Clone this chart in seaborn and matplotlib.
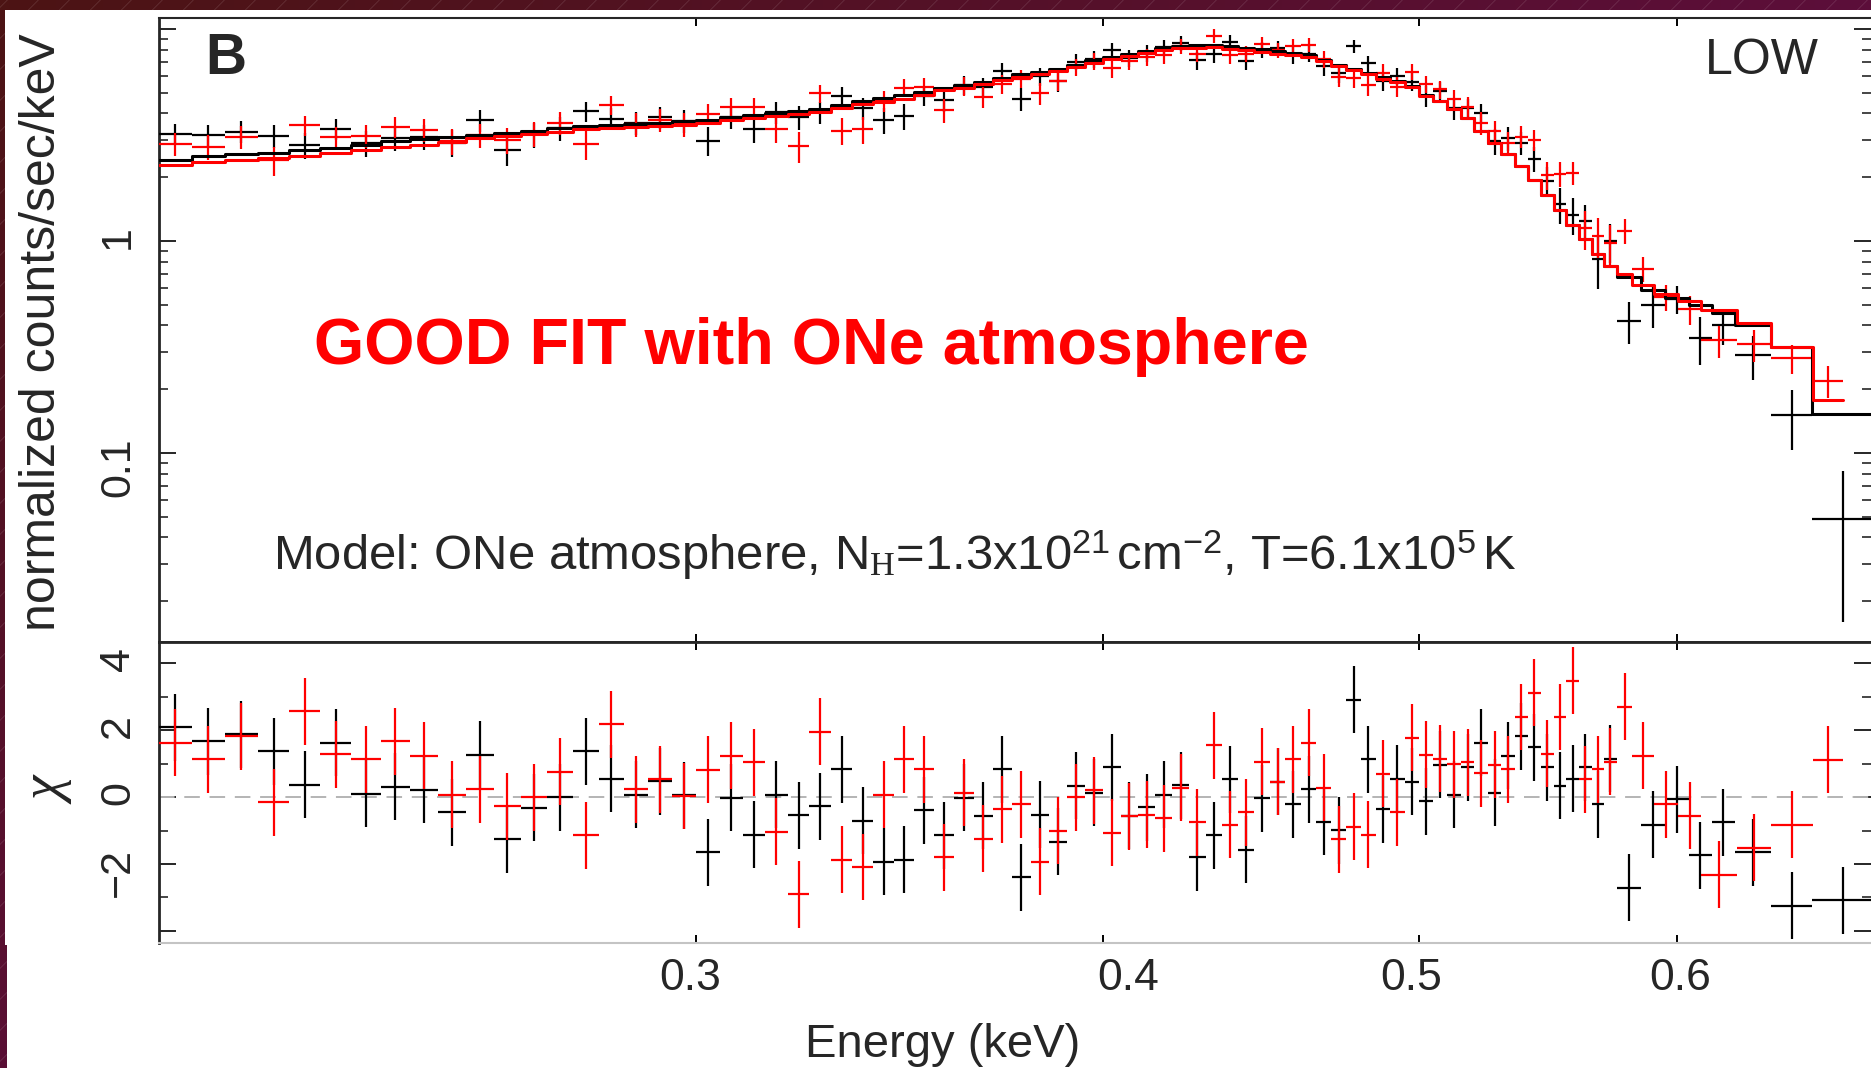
import numpy as np
import pandas as pd
import matplotlib
matplotlib.use('Agg')
import matplotlib.pyplot as plt
import seaborn as sns
from matplotlib.patches import Rectangle
from matplotlib.transforms import ScaledTranslation
from matplotlib.ticker import LogLocator, NullLocator, NullFormatter

W, H, DPI = 1871, 1068, 100

# ---------------------------------------------------------------- data
# 5 eV bins shared by both spectra (keV)
shared_edges = [0.205, 0.210, 0.215, 0.220, 0.225, 0.230, 0.235, 0.240, 0.245, 0.250,
                0.255, 0.260, 0.265, 0.270, 0.275, 0.280, 0.285, 0.290, 0.295, 0.300,
                0.305, 0.310, 0.315, 0.320, 0.325, 0.330, 0.335, 0.340, 0.345, 0.350,
                0.355, 0.360, 0.365, 0.370, 0.375, 0.380, 0.385, 0.390, 0.395, 0.400,
                0.405, 0.410, 0.415, 0.420, 0.425, 0.430, 0.435, 0.440, 0.445, 0.450,
                0.455, 0.460, 0.465, 0.470, 0.475, 0.480, 0.485, 0.490, 0.495, 0.500,
                0.505, 0.510, 0.515, 0.520, 0.525, 0.530, 0.535, 0.540, 0.545, 0.550,
                0.555, 0.560, 0.565, 0.570, 0.575]
blk_edges = shared_edges + [0.585, 0.595, 0.605, 0.615, 0.625, 0.6415, 0.660, 0.690]
red_edges = shared_edges + [0.5815, 0.5905, 0.6005, 0.6105, 0.626, 0.6415, 0.6605, 0.675]

blk_model = [2.42, 2.51, 2.56, 2.61, 2.68, 2.74, 2.85, 2.95, 3.02, 3.09,
             3.17, 3.23, 3.32, 3.40, 3.48, 3.54, 3.58, 3.62, 3.67, 3.74,
             3.84, 3.93, 4.01, 4.10, 4.19, 4.39, 4.58, 4.72, 4.87, 5.07,
             5.26, 5.43, 5.62, 5.88, 6.12, 6.30, 6.48, 6.80, 7.12, 7.40,
             7.65, 7.90, 8.17, 8.33, 8.38, 8.41, 8.30, 8.17, 8.02, 7.85,
             7.68, 7.50, 7.15, 6.80, 6.50, 6.20, 5.92, 5.70, 5.40, 4.90,
             4.60, 4.20, 3.80, 3.30, 2.90, 2.58, 2.25, 1.95, 1.65, 1.40,
             1.19, 1.02, 0.87, 0.76,
             0.68, 0.59, 0.54, 0.50, 0.46, 0.40, 0.315, 0.153]
blk_rate = [3.20, 3.15, 3.28, 3.14, 2.83, 3.38, 2.89, 3.07, 3.11, 2.90,
            3.71, 2.69, 3.18, 3.40, 4.09, 3.78, 3.61, 3.83, 3.69, 2.97,
            3.83, 3.39, 4.04, 3.84, 4.05, 4.81, 4.22, 3.71, 3.88, 4.85,
            4.63, 5.42, 5.30, 6.36, 4.69, 5.98, 5.66, 7.01, 7.20, 7.98,
            7.28, 7.70, 8.22, 8.57, 7.13, 7.62, 8.67, 7.09, 8.00, 8.15,
            7.53, 7.65, 6.67, 6.18, 8.28, 6.88, 5.70, 6.01, 5.65, 4.84,
            5.09, 4.23, 4.22, 4.01, 2.95, 3.05, 2.91, 2.45, 1.92, 1.49,
            1.33, 1.24, 0.82, 1.00,
            0.42, 0.50, 0.535, 0.35, 0.40, 0.29, 0.151, 0.049]
blk_err = [0.373, 0.380, 0.384, 0.388, 0.393, 0.397, 0.405, 0.412, 0.417, 0.422,
           0.427, 0.431, 0.437, 0.443, 0.448, 0.451, 0.454, 0.457, 0.460, 0.464,
           0.470, 0.476, 0.481, 0.486, 0.491, 0.503, 0.514, 0.522, 0.530, 0.540,
           0.550, 0.559, 0.569, 0.582, 0.594, 0.602, 0.611, 0.626, 0.640, 0.653,
           0.664, 0.675, 0.686, 0.693, 0.695, 0.696, 0.691, 0.686, 0.680, 0.672,
           0.665, 0.657, 0.642, 0.626, 0.612, 0.598, 0.584, 0.573, 0.558, 0.531,
           0.515, 0.492, 0.468, 0.436, 0.409, 0.385, 0.360, 0.335, 0.308, 0.284,
           0.262, 0.242, 0.224, 0.209,
           0.095, 0.110, 0.080, 0.090, 0.077, 0.068, 0.048, 0.033]
blk_chi = [2.09, 1.67, 1.87, 1.36, 0.37, 1.62, 0.10, 0.30, 0.22, -0.45,
           1.26, -1.26, -0.32, 0.00, 1.36, 0.54, 0.07, 0.47, 0.05, -1.65,
           -0.02, -1.13, 0.07, -0.54, -0.28, 0.83, -0.71, -1.94, -1.87, -0.40,
           -1.14, -0.02, -0.56, 0.83, -2.40, -0.53, -1.34, 0.33, 0.13, 0.89,
           -0.56, -0.30, 0.07, 0.35, -1.80, -1.14, 0.53, -1.57, -0.03, 0.45,
           -0.22, 0.23, -0.74, -0.99, 2.91, 1.13, -0.37, 0.54, 0.45, -0.12,
           0.96, 0.07, 0.89, 1.62, 0.13, 1.23, 1.82, 1.49, 0.89, 0.33,
           0.54, 0.89, -0.22, 1.14,
           -2.71, -0.83, -0.07, -1.74, -0.76, -1.65, -3.25, -3.08]

red_model = [2.29, 2.37, 2.42, 2.47, 2.53, 2.59, 2.69, 2.79, 2.85, 2.92,
             3.06, 3.12, 3.20, 3.28, 3.36, 3.42, 3.45, 3.49, 3.54, 3.61,
             3.71, 3.79, 3.87, 3.96, 4.04, 4.24, 4.42, 4.55, 4.70, 4.89,
             5.13, 5.29, 5.48, 5.73, 5.97, 6.14, 6.32, 6.63, 6.94, 7.22,
             7.46, 7.70, 7.97, 8.12, 8.17, 8.20, 8.09, 7.97, 7.82, 7.65,
             7.56, 7.39, 7.04, 6.70, 6.40, 6.11, 5.83, 5.61, 5.32, 4.83,
             4.60, 4.20, 3.80, 3.30, 2.90, 2.58, 2.25, 1.95, 1.65, 1.40,
             1.19, 1.02, 0.87, 0.76,
             0.70, 0.62, 0.56, 0.52, 0.475, 0.41, 0.315, 0.178]
red_rate = [2.88, 2.79, 3.10, 2.41, 3.51, 3.08, 3.14, 3.46, 3.35, 2.95,
            3.16, 3.00, 3.20, 3.61, 2.86, 4.38, 3.55, 3.73, 3.55, 3.98,
            4.28, 4.28, 3.38, 2.80, 4.98, 3.32, 3.36, 4.59, 5.29, 5.33,
            4.15, 5.36, 4.78, 5.52, 5.84, 4.99, 5.71, 6.63, 7.07, 6.54,
            7.08, 7.35, 7.54, 8.31, 7.65, 9.26, 7.52, 7.66, 8.53, 7.95,
            8.31, 8.45, 7.22, 5.92, 5.86, 5.44, 6.23, 5.35, 6.30, 5.50,
            5.19, 4.68, 4.29, 3.61, 3.29, 2.90, 3.11, 2.99, 2.05, 2.08,
            2.10, 1.15, 1.06, 0.98,
            1.12, 0.74, 0.545, 0.478, 0.34, 0.325, 0.28, 0.219]
red_err = [0.363, 0.370, 0.373, 0.377, 0.382, 0.386, 0.394, 0.401, 0.405, 0.410,
           0.420, 0.424, 0.429, 0.435, 0.440, 0.444, 0.446, 0.448, 0.452, 0.456,
           0.462, 0.467, 0.472, 0.478, 0.482, 0.494, 0.505, 0.512, 0.520, 0.531,
           0.544, 0.552, 0.562, 0.575, 0.586, 0.595, 0.603, 0.618, 0.632, 0.645,
           0.655, 0.666, 0.678, 0.684, 0.686, 0.687, 0.683, 0.678, 0.671, 0.664,
           0.660, 0.652, 0.637, 0.621, 0.607, 0.593, 0.580, 0.569, 0.554, 0.528,
           0.515, 0.492, 0.468, 0.436, 0.409, 0.385, 0.360, 0.335, 0.308, 0.284,
           0.262, 0.242, 0.224, 0.209,
           0.155, 0.100, 0.077, 0.075, 0.058, 0.056, 0.043, 0.037]
red_chi = [1.62, 1.13, 1.82, -0.15, 2.56, 1.28, 1.13, 1.67, 1.23, 0.07,
           0.23, -0.28, 0.00, 0.76, -1.14, 2.17, 0.23, 0.53, 0.03, 0.81,
           1.23, 1.04, -1.03, -2.90, 1.95, -1.87, -2.09, 0.07, 1.13, 0.83,
           -1.80, 0.13, -1.24, -0.37, -0.22, -1.94, -1.01, 0.00, 0.20, -1.06,
           -0.58, -0.53, -0.64, 0.28, -0.76, 1.54, -0.83, -0.45, 1.06, 0.45,
           1.13, 1.62, 0.28, -1.26, -0.89, -1.13, 0.69, -0.45, 1.77, 1.26,
           1.14, 0.98, 1.04, 0.71, 0.96, 0.83, 2.39, 3.11, 1.29, 2.39,
           3.48, 0.53, 0.83, 1.06,
           2.70, 1.24, -0.22, -0.56, -2.32, -1.52, -0.83, 1.11]

energy_ticks = [0.3, 0.4, 0.5, 0.6]

# ---------------------------------------------------------------- style
sns.set_theme(style='ticks')
plt.rcParams['font.family'] = ['Liberation Sans', 'DejaVu Sans']
plt.rcParams['mathtext.fontset'] = 'custom'
plt.rcParams['mathtext.rm'] = 'Liberation Serif'
plt.rcParams['mathtext.it'] = 'Liberation Serif:italic'
plt.rcParams['mathtext.bf'] = 'Liberation Serif:bold'
plt.rcParams['mathtext.sf'] = 'Liberation Sans'

fig = plt.figure(figsize=(W / DPI, H / DPI), dpi=DPI, facecolor='white')


def fx(px):
    return px / W


def fy(py):
    return 1 - py / H


# slide background: maroon band with faint diagonal lines, white picture on top
bg = fig.add_axes([0, 0, 1, 1], zorder=-10)
bg.set_axis_off()
gx, gy = np.meshgrid(np.linspace(0, 1, 200), np.linspace(0, 1, 120))
t = np.clip(gx + 0.85 * gy, 0, 1)[..., None]
c0 = np.array([76, 20, 20]) / 255
c1 = np.array([92, 14, 58]) / 255
bg.imshow(c0 + (c1 - c0) * t, extent=(0, 1, 0, 1), aspect='auto', origin='upper')
for c in np.arange(-0.6, 1.0, 31 / W):
    bg.plot([c, c + H / W], [0, 1], color='white', alpha=0.13, lw=0.6)
bg.add_patch(Rectangle((fx(5), fy(945)), 1, fy(10) - fy(945), facecolor='white',
                       edgecolor='none', zorder=5))
bg.add_patch(Rectangle((fx(7), 0), 1, fy(945), facecolor='white',
                       edgecolor='none', zorder=5))
bg.set_xlim(0, 1)
bg.set_ylim(0, 1)

ax_top = fig.add_axes([fx(159), fy(642), 1 - fx(159), (642 - 18) / H])
ax_bot = fig.add_axes([fx(159), fy(943), 1 - fx(159), (943 - 642) / H])

for ax in (ax_top, ax_bot):
    ax.set_facecolor('white')
    ax.set_xscale('log')
    ax.set_xlim(0.2052, 0.6883)
ax_top.set_yscale('log')
ax_top.set_ylim(0.01284, 11.27)
ax_bot.set_ylim(-4.36, 4.63)

ax_bot.axhline(0, color='#b4b4b4', lw=1.4, ls=(0, (8, 5)), zorder=1)


def draw_spectrum(edges, rate, err, model, chi, color):
    lo = np.array(edges[:-1])
    hi = np.array(edges[1:])
    mid = 0.5 * (lo + hi)
    xerr = [mid - lo, hi - mid]
    ax_top.errorbar(mid, rate, xerr=xerr, yerr=err, fmt='none', ecolor=color,
                    elinewidth=1.6, capsize=0, zorder=3)
    step = pd.DataFrame({'energy': edges, 'model': list(model) + [model[-1]]})
    sns.lineplot(data=step, x='energy', y='model', ax=ax_top, color=color, lw=2.2,
                 drawstyle='steps-post', estimator=None, sort=False, zorder=4)
    ax_bot.errorbar(mid, chi, xerr=xerr, yerr=1.0, fmt='none', ecolor=color,
                    elinewidth=1.6, capsize=0, zorder=3)


draw_spectrum(blk_edges, blk_rate, blk_err, blk_model, blk_chi, 'black')
draw_spectrum(red_edges, red_rate, red_err, red_model, red_chi, '#ff0000')

for ax in (ax_top, ax_bot):
    ax.set_xlabel('')
    ax.set_ylabel('')
    ax.xaxis.set_minor_locator(NullLocator())
    ax.xaxis.set_minor_formatter(NullFormatter())
    ax.spines['right'].set_visible(False)
    ax.spines['left'].set_linewidth(2.0)
    ax.tick_params(axis='x', which='major', direction='in', top=True, bottom=True,
                   length=6, width=1.4, color='black')
    ax.tick_params(axis='y', which='major', direction='in', left=True, right=True,
                   length=12, width=1.4, labelsize=31, labelrotation=90, pad=15)
    ax.tick_params(axis='y', which='minor', direction='in', left=True, right=True,
                   length=6.5, width=1.2)

ax_top.spines['top'].set_linewidth(1.5)
ax_top.spines['bottom'].set_linewidth(2.0)
ax_bot.spines['top'].set_linewidth(2.0)
ax_bot.spines['bottom'].set_color('#c4c4c4')
ax_bot.spines['bottom'].set_linewidth(1.5)

ax_top.set_xticks(energy_ticks, [])
ax_top.set_yticks([0.1, 1, 10], ['0.1', '1', ''])
ax_top.yaxis.set_minor_locator(LogLocator(base=10, subs=np.arange(2, 10)))
ax_top.yaxis.set_minor_formatter(NullFormatter())

ax_bot.set_xticks(energy_ticks, ['0.3', '0.4', '0.5', '0.6'])
ax_bot.tick_params(axis='x', labelsize=32, pad=11)
ax_bot.set_yticks([-4, -2, 0, 2, 4], ['', '\u22122', '0', '2', '4'])
ax_bot.set_yticks([-3, -1, 1, 3], minor=True)

# the energy labels sit a little off their ticks in the original
for lab, dx in zip(ax_bot.get_xticklabels(), [-6, 25, -8, 3]):
    lab.set_transform(lab.get_transform() + ScaledTranslation(dx / DPI, 0, fig.dpi_scale_trans))

# ---------------------------------------------------------------- texts
fig.text(fx(205), fy(74), 'B', fontsize=41, fontweight='bold', va='baseline', ha='left')
fig.text(fx(1819), fy(74), 'LOW', fontsize=36, va='baseline', ha='right')
fig.text(fx(314), fy(364), 'GOOD FIT with ONe atmosphere', color='#ff0000',
         fontsize=46.5, fontweight='bold', va='baseline', ha='left')
fig.text(fx(273), fy(570),
         r'Model: ONe atmosphere, N$_{\mathrm{H}}$=1.3x10$^{\mathsf{21}}\,$cm$^{\mathsf{-2}}$, '
         r'T=6.1x10$^{\mathsf{5}}\,$K',
         fontsize=35.3, va='baseline', ha='left')
fig.text(fx(42), fy(332), 'normalized counts/sec/keV', rotation=90, fontsize=36,
         ha='center', va='center')
fig.text(fx(48), fy(788), r'$\chi$', rotation=90, fontsize=40, ha='center', va='center')
fig.text(fx(943), fy(1057), 'Energy (keV)', fontsize=34, ha='center', va='baseline')

fig.savefig('out.png', dpi=DPI, facecolor='white')
